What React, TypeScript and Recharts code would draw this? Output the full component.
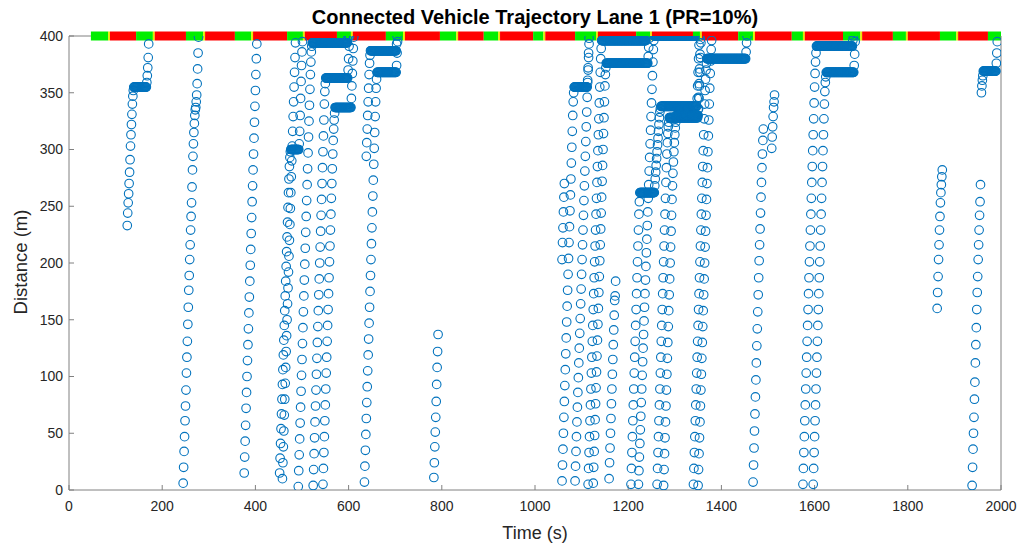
import { ScatterChart, Scatter, XAxis, YAxis, ReferenceLine } from "recharts";

// one sample per second; [d, n] = vehicle held at d for n samples
type Step = number | [number, number];

const xTicks = [0, 200, 400, 600, 800, 1000, 1200, 1400, 1600, 1800, 2000];
const yTicks = [0, 50, 100, 150, 200, 250, 300, 350, 400];

// signal state boundaries at the stop line (s): green, yellow, red, green, ...
const signalTimes = [
  47, 84, 88, 144, 180, 184, 251, 288, 292, 356, 391, 395, 468, 502, 506, 575, 605, 609,
  680, 717, 721, 796, 831, 835, 890, 921, 925, 996, 1018, 1022, 1086, 1131, 1135, 1217,
  1247, 1251, 1339, 1354, 1358, 1436, 1468, 1472, 1551, 1575, 1579, 1661, 1698, 1702,
  1768, 1796, 1800, 1869, 1904, 1908, 1972, 2000,
];
const signalColors = ["#00ee00", "#e8e800", "#ff0000"];

const vehStart = [
  125, 245, 376, 458, 452, 492, 524, 545, 634, 638, 783, 1058, 1058, 1086, 1114, 1125,
  1159, 1206, 1222, 1262, 1276, 1340, 1350, 1468, 1508, 1575, 1597, 1863, 1938, 1958,
];

const veh01: Step[] = [233, 244, 253, 261, 270, 280, 291, 303, 313, 322, 331, 340, 347, 352, [355, 28], 359, 365, 372, 381, 393];
const veh02: Step[] = [6, 20, 34, 47, 61, 74, 88, 103, 117, 131, 146, 161, 176, 189, 203, 216, 229, 241, 253, 267, 282, 294, 305, 315, 323, 330, 335, 337, 342, 348, 358, 371, 385, 399];
const veh03: Step[] = [15, 29, 43, 57, 72, 86, 100, 114, 128, 142, 156, 170, 184, 198, 212, 226, 240, 254, 268, 282, 296, 310, 324, 338, 352, 366, 380, 393];
const veh04: Step[] = [10, 24, 38, 52, 66, 80, 94, 108, 122, 136, 150, 164, 178, 192, 206, 220, 234, 248, 262, 276, 290, 303, 316, 329, 342, 355, 368, 381, 394];
const veh05: Step[] = [15, 28, 41, 54, 67, 80, 93, 106, 119, 132, 145, 158, 171, 184, 197, 210, 223, 236, 249, 262, 274, 285, 293, 298, [300, 18], 305, 316, 330, 345, 360, 374, 386, 395];
const veh06: Step[] = [3, 17, 31, 45, 59, 73, 87, 101, 115, 129, 143, 157, 171, 185, 199, 213, 227, 241, 255, 269, 283, 297, 311, 325, 339, 353, 366, 377, 386, 391, [394, 76], 397, 400];
const veh07: Step[] = [4, 18, 32, 46, 60, 74, 88, 102, 116, 130, 144, 158, 172, 186, 200, 214, 228, 242, 256, 270, 284, 298, 312, 326, 340, 351, 358, [363, 48], 370, 380, 391, 400];
const veh08: Step[] = [5, 19, 33, 47, 61, 75, 89, 103, 117, 131, 145, 159, 173, 187, 201, 215, 229, 243, 257, 270, 283, 296, 308, 318, 326, 332, [337, 35], 345, 356, 367, 378, 389, 399];
const veh09: Step[] = [7, 21, 35, 49, 63, 77, 91, 105, 119, 133, 147, 161, 175, 189, 203, 217, 231, 245, 259, 273, 287, 301, 315, 329, 342, 354, 362, [368, 42], 374, 385, 395];
const veh10: Step[] = [294, 306, 318, 330, 342, 354, 366, 376, 383, [387, 56], 393, 400];
const veh11: Step[] = [11, 24, 38, 51, 64, 78, 93, 108, 122, 137];
const veh12: Step[] = [203, 218, 231, 245, 258, 270];
const veh13: Step[] = [8, 22, 36, 50, 64, 78, 92, 106, 120, 134, 148, 162, 176, 190, 204, 218, 232, 246, 260, 274, 288, 302, 316, 330, 342, 350, [355, 29], 361, 370, 381, 393];
const veh14: Step[] = [8, 21, 34, 47, 60, 73, 86, 99, 112, 125, 138, 151, 164, 177, 190, 203, 216, 229, 242, 255, 268, 281, 294, 307, 320, 333, 346, 359, 372, 385, 398];
const veh15: Step[] = [5, 19, 33, 47, 61, 75, 89, 103, 117, 131, 145, 159, 173, 187, 201, 215, 229, 243, 257, 271, 285, 299, 313, 327, 341, 355, 368, 380, 389, [396, 96], 400];
const veh16: Step[] = [6, 20, 34, 48, 62, 76, 90, 104, 118, 132, 146, 160, 174, 188, 202, 216, 230, 244, 258, 272, 286, 300, 314, 328, 342, 356, 366, 372, [376, 90], 382, 390, 398];
const veh17: Step[] = [10, 24, 37, 50, 63, 76, 89, 102, 115, 128, 141, 154, 167, 171, 184];
const veh18: Step[] = [5, 19, 33, 47, 61, 75, 89, 103, 117, 131, 145, 159, 173, 187, 201, 215, 229, 243, 254, [262, 32], 268, 274, 280, 286, 292, 298, 304, 310, 316, 322, 328, 333, 336, [338, 78], 345, 356, 368, 380, 392, 400];
const veh19: Step[] = [5, 17, 29, 41, 53, 65, 77, 89, 101, 113, 125, 137, 149, 161, 173, 185, 197, 209, 221, 233, 245, 257, 269, 281, 293, 305, 317, 329, 341, 353, 365, 377, 388, 396, [400, 88]];
const veh20: Step[] = [5, 19, 33, 47, 61, 75, 89, 103, 117, 131, 145, 159, 173, 187, 201, 215, 229, 243, 257, 271, 284, 296, 306, 314, 320, 324, [328, 62], 335, 346, 358, 371, 384, 397];
const veh21: Step[] = [4, 18, 32, 46, 60, 74, 88, 102, 116, 130, 144, 158, 172, 186, 200, 214, 228, 242, 256, 268, 279, 289, 298, 306, 313, 319, 324, [330, 48], 336, 345, 356, 368, 381, 394];
const veh22: Step[] = [5, 19, 33, 47, 61, 75, 89, 103, 117, 131, 145, 159, 173, 187, 201, 215, 229, 243, 257, 271, 285, 299, 313, 327, 340, 352, 362, 370, 376, [380, 84], 386, 394, 400];
const veh23: Step[] = [4, 18, 32, 46, 60, 74, 88, 102, 116, 130, 144, 158, 172, 186, 200, 214, 228, 242, 256, 270, 284, 298, 312, 326, 340, 354, 367, 378, 388, 396];
const veh24: Step[] = [7, 22, 37, 52, 67, 82, 97, 112, 127, 142, 157, 172, 187, 202, 216, 230, 244, 258, 271, 284, 296, 308, 318];
const veh25: Step[] = [301, 311, 320, 329, 337, 342, 348];
const veh26: Step[] = [5, 19, 33, 47, 61, 75, 89, 103, 117, 131, 145, 159, 173, 187, 201, 215, 229, 243, 257, 271, 285, 299, 313, 327, 341, 355, 367, 377, 385, [391, 78], 396, 400];
const veh27: Step[] = [5, 19, 33, 47, 61, 75, 89, 103, 117, 131, 145, 159, 173, 187, 201, 215, 229, 243, 257, 271, 285, 299, 313, 327, 340, 351, 359, 364, [368, 60], 374, 384, 395];
const veh28: Step[] = [160, 174, 188, 203, 216, 229, 241, 253, 262, 269, 276, 282];
const veh29: Step[] = [4, 20, 36, 50, 64, 80, 95, 112, 128, 143, 159, 174, 188, 203, 216, 229, 242, 254, 269];
const veh30: Step[] = [350, 356, 361, 365, [369, 28], 376, 385, 395];

const vehPaths = [
  veh01, veh02, veh03, veh04, veh05, veh06, veh07, veh08, veh09, veh10, veh11, veh12, veh13, veh14, veh15,
  veh16, veh17, veh18, veh19, veh20, veh21, veh22, veh23, veh24, veh25, veh26, veh27, veh28, veh29, veh30,
];

function expand(t0: number, path: Step[]) {
  const pts: { t: number; d: number }[] = [];
  let t = t0;
  for (const s of path) {
    if (Array.isArray(s)) {
      for (let k = 0; k < s[1]; k++) pts.push({ t: t++, d: s[0] });
    } else {
      pts.push({ t: t++, d: s });
    }
  }
  return pts;
}

const samples = vehPaths.flatMap((p, i) => expand(vehStart[i], p));

const font = '"Liberation Sans", Arial, Helvetica, sans-serif';
const tickStyle = { fill: "#262626", fontSize: 14, fontFamily: font };
const axisGray = "#808080";

const Ring = (p: any) => (
  <circle cx={p.cx} cy={p.cy} r={4.3} fill="none" stroke="#0072BD" strokeWidth={1.1} />
);

export default function App() {
  return (
    <div style={{ position: "absolute", left: 0, top: 0, width: 1019, height: 545, background: "#fff", fontFamily: font }}>
      <ScatterChart width={1019} height={545} margin={{ top: 36, right: 17, bottom: 25, left: 0 }}>
        <XAxis
          type="number"
          dataKey="t"
          domain={[0, 2000]}
          ticks={xTicks}
          tick={tickStyle}
          tickSize={-5}
          tickMargin={16}
          height={30}
          stroke={axisGray}
          allowDataOverflow
        />
        <YAxis
          type="number"
          dataKey="d"
          domain={[0, 400]}
          ticks={yTicks}
          tick={tickStyle}
          tickSize={-5}
          tickMargin={11}
          width={69}
          stroke={axisGray}
          allowDataOverflow
        />
        <YAxis yAxisId="right" orientation="right" type="number" domain={[0, 400]} ticks={yTicks} tick={false} tickSize={-5} width={1} stroke={axisGray} />
        <ReferenceLine segment={[{ x: 0, y: 400 }, { x: signalTimes[0], y: 400 }]} stroke={axisGray} strokeWidth={1} ifOverflow="visible" />
        {signalTimes.slice(0, -1).map((a, i) => (
          <ReferenceLine
            key={i}
            segment={[{ x: a, y: 400 }, { x: signalTimes[i + 1], y: 400 }]}
            stroke={signalColors[i % 3]}
            strokeWidth={9}
            ifOverflow="visible"
          />
        ))}
        <Scatter data={samples} shape={Ring} isAnimationActive={false} />
      </ScatterChart>
      <div style={{ position: "absolute", left: 69, width: 932, top: 4, textAlign: "center", fontSize: 20, lineHeight: "26px", fontWeight: "bold", color: "#000" }}>
        Connected Vehicle Trajectory Lane 1 (PR=10%)
      </div>
      <div style={{ position: "absolute", left: 69, width: 932, top: 521, textAlign: "center", fontSize: 18, lineHeight: "24px", color: "#262626" }}>
        Time (s)
      </div>
      <div
        style={{
          position: "absolute",
          left: 21,
          top: 262,
          transform: "translate(-50%, -50%) rotate(-90deg)",
          whiteSpace: "nowrap",
          fontSize: 18.5,
          lineHeight: "24px",
          color: "#262626",
        }}
      >
        Distance (m)
      </div>
    </div>
  );
}
